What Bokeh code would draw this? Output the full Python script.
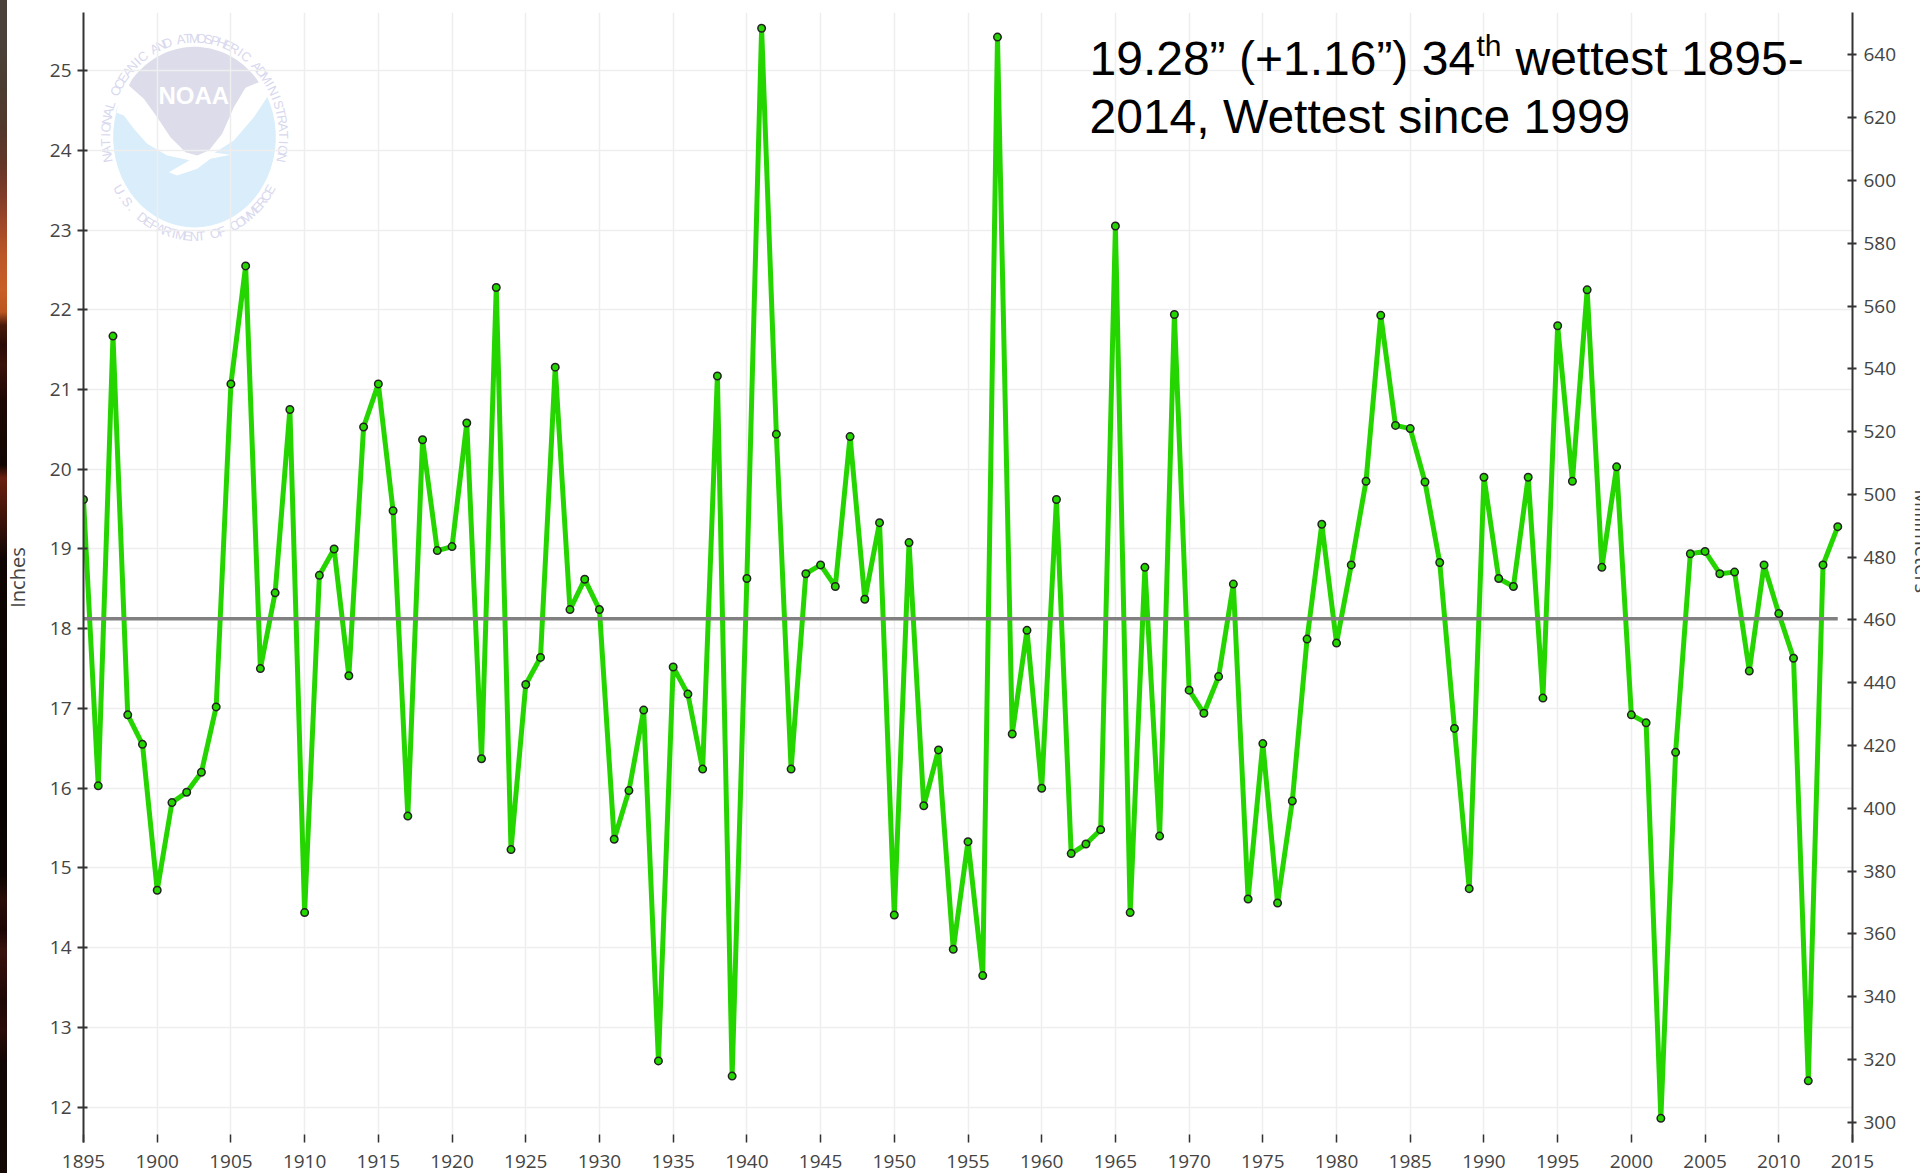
import math
from bokeh.plotting import figure
from bokeh.models import Range1d, LinearAxis, FixedTicker
from bokeh.embed import file_html
from bokeh.resources import INLINE
from bokeh.core.properties import value

years = list(range(1895, 2015))
inches = [19.62, 16.03, 21.67, 16.92, 16.55, 14.72, 15.82, 15.95, 16.20, 17.02,
          21.07, 22.55, 17.50, 18.45, 20.75, 14.44, 18.67, 19.00, 17.41, 20.53,
          21.07, 19.48, 15.65, 20.37, 18.98, 19.03, 20.58, 16.37, 22.28, 15.23,
          17.30, 17.64, 21.28, 18.24, 18.62, 18.24, 15.36, 15.97, 16.98, 12.58,
          17.52, 17.18, 16.24, 21.17, 12.39, 18.63, 25.53, 20.44, 16.24, 18.69,
          18.80, 18.53, 20.41, 18.37, 19.33, 14.41, 19.08, 15.78, 16.48, 13.98,
          15.33, 13.65, 25.42, 16.68, 17.98, 16.00, 19.62, 15.18, 15.30, 15.48,
          23.05, 14.44, 18.77, 15.40, 21.94, 17.23, 16.94, 17.40, 18.56, 14.61,
          16.56, 14.56, 15.84, 17.87, 19.31, 17.82, 18.80, 19.85, 21.93, 20.55,
          20.51, 19.84, 18.83, 16.75, 14.74, 19.90, 18.63, 18.53, 19.90, 17.13,
          21.80, 19.85, 22.25, 18.77, 20.03, 16.92, 16.82, 11.86, 16.45, 18.94,
          18.97, 18.69, 18.71, 17.47, 18.80, 18.19, 17.63, 12.33, 18.80, 19.28]
mean_inches = 18.125
x_ticks = list(range(1895, 2016, 5))
inch_ticks = list(range(12, 26))
mm_ticks = list(range(300, 641, 20))

# photo edge visible at the far left of the slide: (end of band in px, colour)
strip_bands = [(40, "#4a4238"), (90, "#4c3c30"), (130, "#52382b"), (165, "#643528"), (195, "#7f3c29"),
               (225, "#a04828"), (255, "#bb5626"), (290, "#c85f25"), (312, "#bb5620"), (325, "#4a1a0a"),
               (345, "#2a0c06"), (365, "#3a120a"), (400, "#1c0703"), (465, "#120602"), (478, "#6a2010"),
               (560, "#0f0502"), (800, "#060200"), (875, "#0c0402"), (900, "#2a0e08"), (930, "#1c0604"),
               (950, "#3a120c"), (1000, "#1e0806"), (1030, "#2a0c08"), (1060, "#120604"), (1173, "#140804")]

FONT = "Open Sans"
INK = "#444444"
AXIS = "#333333"

X0, X1 = 1895, 2015
Y0, Y1 = 11.557, 25.728

W, H = 1920, 1173
FL, FR, FT, FB = 83, W - 1852, 12, H - 1142

stops = ", ".join(f"{c} {e}px" for e, c in strip_bands)
p = figure(width=W, height=H, frame_width=W - FL - FR, frame_height=H - FT - FB,
           output_backend="svg", toolbar_location=None,
           x_range=Range1d(X0, X1), y_range=Range1d(Y0, Y1),
           min_border_left=FL, min_border_right=FR, min_border_top=FT, min_border_bottom=FB,
           outline_line_color=None, background_fill_color="white", border_fill_color=None)
p.styles = {"background": f"linear-gradient(to bottom, {stops}) 0 0 / 7px 100% no-repeat, white"}

def dx(px):
    return X0 + (px - 83) / (1852 - 83) * (X1 - X0)

def dy(py):
    return Y0 + (1142 - py) / (1142 - 12) * (Y1 - Y0)

# x axis and grids
ax = p.xaxis[0]
ax.ticker = FixedTicker(ticks=x_ticks)
ax.axis_line_color = None
ax.major_tick_in = 8
ax.major_tick_out = 0
ax.minor_tick_line_color = None
ax.major_tick_line_color = AXIS
ax.major_tick_line_width = 1.5
ax.major_label_standoff = 12
ax.major_label_text_font = FONT
ax.major_label_text_font_size = "19px"
ax.major_label_text_color = INK

ay = p.yaxis[0]
ay.ticker = FixedTicker(ticks=inch_ticks)
ay.axis_line_color = AXIS
ay.axis_line_width = 2
ay.major_tick_in = 4
ay.major_tick_out = 6
ay.minor_tick_line_color = None
ay.major_tick_line_color = AXIS
ay.major_tick_line_width = 2
ay.major_label_standoff = 6
ay.major_label_text_font = FONT
ay.major_label_text_font_size = "19px"
ay.major_label_text_color = INK
ay.axis_label = "Inches"
ay.axis_label_text_font = FONT
ay.axis_label_text_font_size = "20px"
ay.axis_label_text_font_style = "normal"
ay.axis_label_text_color = INK
ay.axis_label_standoff = 16

p.xgrid.ticker = FixedTicker(ticks=x_ticks)
p.ygrid.ticker = FixedTicker(ticks=inch_ticks)
for g in (p.xgrid[0], p.ygrid[0]):
    g.grid_line_color = "#eeeeee"
    g.grid_line_width = 1.5

p.extra_y_ranges = {"mm": Range1d(Y0 * 25.4, Y1 * 25.4)}
ar = LinearAxis(y_range_name="mm", ticker=FixedTicker(ticks=mm_ticks))
ar.axis_line_color = AXIS
ar.axis_line_width = 2
ar.major_tick_in = 5
ar.major_tick_out = 4
ar.minor_tick_line_color = None
ar.major_tick_line_color = AXIS
ar.major_tick_line_width = 2
ar.major_label_standoff = 7
ar.major_label_text_font = FONT
ar.major_label_text_font_size = "19px"
ar.major_label_text_color = INK
# the label sits 35px above the axis centre in the reference; no-break spaces pad it upward
ar.axis_label = "Millimeters" + "\u00a0" * 14
ar.axis_label_text_font = FONT
ar.axis_label_text_font_size = "20px"
ar.axis_label_text_font_style = "normal"
ar.axis_label_text_color = INK
ar.axis_label_standoff = 10
p.add_layout(ar, "right")

# NOAA seal (pale decoration beneath the grid), outlined in reference pixels
def poly(points):
    return [dx(a / 3) for a, b in points], [dy(b / 3) for a, b in points]

def arc(cx, cy, rx, ry, a0, a1, n=40):
    return [(cx + rx * math.cos(math.radians(a0 + (a1 - a0) * i / n)),
             cy - ry * math.sin(math.radians(a0 + (a1 - a0) * i / n))) for i in range(n + 1)]

CX, CY, RX, RY = 582, 410, 244, 271
top = [(385, 255)] + arc(CX, CY, RX, RY, 140, 42) + [(775, 245), (735, 262), (700, 320), (665, 400),
       (625, 450), (590, 465), (555, 455), (510, 410), (470, 350), (430, 295)]
low = [(345, 335), (370, 345), (400, 385), (440, 430), (500, 465), (570, 480), (640, 458), (700, 420),
       (760, 350), (800, 290)] + arc(CX, CY, RX, RY, 27, -207)
tail = [(570, 478), (505, 515), (530, 525), (590, 505), (630, 475), (690, 463), (640, 456)]
xs, ys = poly(top)
p.patch(xs, ys, fill_color="#dcdcea", line_color=None, level="image")
xs, ys = poly(low)
p.patch(xs, ys, fill_color="#d9edfa", line_color=None, level="image")
xs, ys = poly(tail)
p.patch(xs, ys, fill_color="white", line_color=None, level="image")
p.text([dx(580 / 3)], [dy(284 / 3)], text=["NOAA"], text_font=value("Liberation Sans"), text_font_size="24px",
       text_font_style="bold", text_color="white", text_align="center", text_baseline="middle", level="image")

def ring(text, a0, a1, rx, ry):
    for i, ch in enumerate(text):
        a = a0 + (a1 - a0) * i / (len(text) - 1)
        r = math.radians(a)
        px = 582 / 3 + rx * math.cos(r)
        py = 410 / 3 - ry * math.sin(r)
        normal = math.atan2(math.sin(r) / ry, math.cos(r) / rx)
        rot = normal - math.pi / 2 if a1 < a0 else normal + math.pi / 2
        p.text([dx(px)], [dy(py)], text=[ch], angle=[rot], text_font=value("Liberation Sans"), text_font_size="13px",
               text_color="#d8d8ee", text_align="center", text_baseline="middle", level="image")

ring("NATIONAL OCEANIC AND ATMOSPHERIC ADMINISTRATION", 192, -12, 89, 99)
ring("U.S. DEPARTMENT OF COMMERCE", 212, 328, 89, 99)

# series
p.line(years, inches, line_color="#25d500", line_width=5, line_join="round")
p.line([years[0], years[-1]], [mean_inches, mean_inches], line_color="#808080", line_width=3.5)
p.scatter(years, inches, marker="circle", size=7.5, fill_color="#25d500", line_color="#222222", line_width=1.5)

# headline
def head(txt, px, py, size):
    p.text([dx(px)], [dy(py)], text=[txt], text_font=value("Liberation Sans"), text_font_size=size,
           text_color="#000000", text_align="left", text_baseline="alphabetic")

head("19.28” (+1.16”) 34", 1089, 58, "48px")
head("th", 1476, 45, "30px")
head("wettest 1895-", 1515, 58, "48px")
head("2014, Wettest since 1999", 1089, 116, "48px")

open("out.html", "w").write(file_html(p, INLINE))
